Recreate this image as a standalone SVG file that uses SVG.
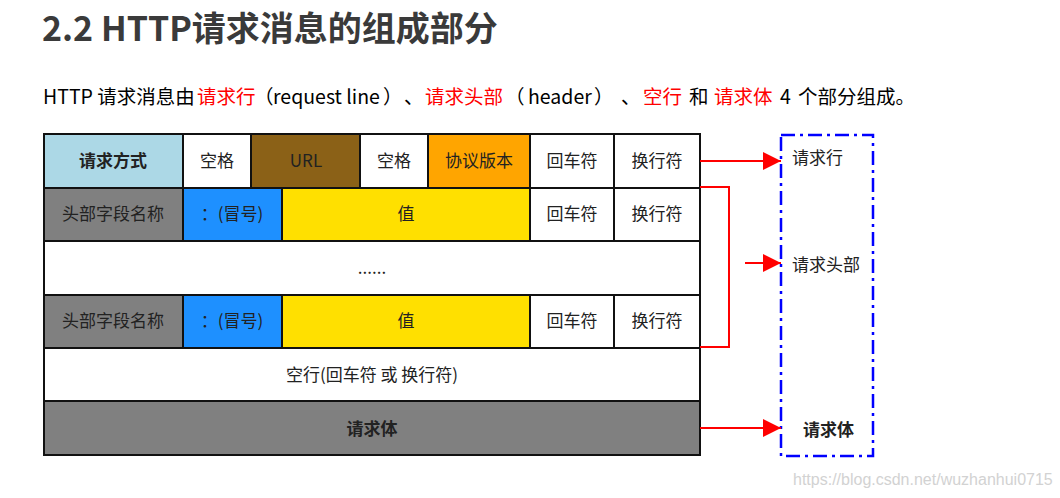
<svg xmlns="http://www.w3.org/2000/svg" width="1060" height="498" viewBox="0 0 1060 498">
<defs>
<marker id="ah" markerUnits="userSpaceOnUse" markerWidth="20" markerHeight="18" refX="18" refY="9" orient="auto">
<path d="M0,0 L18,9 L0,18 Z" fill="#ff0000"/>
</marker>
<style>
.c{stroke:#111;stroke-width:2}
.t{font-family:"Noto Sans CJK SC","Noto Sans",sans-serif;font-size:17px;fill:#222;text-anchor:middle}
.b{font-weight:bold}
.w{fill:#ffffff}
.lb{fill:#acd8e6}
.br{fill:#8b6117}
.or{fill:#ffa500}
.gr{fill:#808080}
.bl{fill:#1e90ff}
.ye{fill:#ffe000}
.red{fill:#ff0000}
.conn{stroke:#ff0000;stroke-width:2;fill:none}
.lbl{font-family:"Noto Sans CJK SC","Noto Sans",sans-serif;font-size:17px;fill:#222}
</style>
</defs>
<rect width="1060" height="498" fill="#ffffff"/>
<text x="42" y="41" font-family="'Noto Sans CJK SC','Noto Sans',sans-serif" font-size="34" font-weight="bold" fill="#3a3a3a">2.2 HTTP请求消息的组成部分</text>
<text y="104" font-family="'Noto Sans CJK SC','Noto Sans',sans-serif" font-size="19.5" fill="#000"><tspan x="43">HTTP 请求消息由</tspan><tspan x="197" class="red">请求行</tspan><tspan x="254">（</tspan><tspan x="273">request line</tspan><tspan x="383">）</tspan><tspan x="404">、</tspan><tspan x="425" class="red">请求头部</tspan><tspan x="505">（</tspan><tspan x="528">header</tspan><tspan x="594">）</tspan><tspan x="621">、</tspan><tspan x="643" class="red">空行</tspan><tspan x="689">和</tspan><tspan x="714" class="red">请求体</tspan><tspan x="780">4</tspan><tspan x="798">个部分组成。</tspan></text>

<g id="row1">
<g id="method"><rect class="c lb" x="44" y="134" width="139" height="54"/><text class="t b" x="113" y="167">请求方式</text></g>
<g id="space1"><rect class="c w" x="183" y="134" width="68" height="54"/><text class="t" x="217" y="167">空格</text></g>
<g id="url"><rect class="c br" x="251" y="134" width="109" height="54"/><text class="t" x="306" y="167">URL</text></g>
<g id="space2"><rect class="c w" x="360" y="134" width="68" height="54"/><text class="t" x="394" y="167">空格</text></g>
<g id="version"><rect class="c or" x="428" y="134" width="102" height="54"/><text class="t" x="479" y="167">协议版本</text></g>
<g id="cr1"><rect class="c w" x="530" y="134" width="84" height="54"/><text class="t" x="572" y="167">回车符</text></g>
<g id="lf1"><rect class="c w" x="614" y="134" width="86" height="54"/><text class="t" x="657" y="167">换行符</text></g>
</g>

<g id="row2">
<g id="hname1"><rect class="c gr" x="44" y="188" width="139" height="53"/><text class="t" x="113" y="220">头部字段名称</text></g>
<g id="colon1"><rect class="c bl" x="183" y="188" width="99" height="53"/><text class="t" x="232" y="220">：(冒号)</text></g>
<g id="value1"><rect class="c ye" x="282" y="188" width="248" height="53"/><text class="t" x="406" y="220">值</text></g>
<g id="cr2"><rect class="c w" x="530" y="188" width="84" height="53"/><text class="t" x="572" y="220">回车符</text></g>
<g id="lf2"><rect class="c w" x="614" y="188" width="86" height="53"/><text class="t" x="657" y="220">换行符</text></g>
</g>

<g id="ellipsis"><rect class="c w" x="44" y="241" width="656" height="54"/><text class="t" x="372" y="274">......</text></g>

<g id="row4">
<g id="hname2"><rect class="c gr" x="44" y="295" width="139" height="53"/><text class="t" x="113" y="327">头部字段名称</text></g>
<g id="colon2"><rect class="c bl" x="183" y="295" width="99" height="53"/><text class="t" x="232" y="327">：(冒号)</text></g>
<g id="value2"><rect class="c ye" x="282" y="295" width="248" height="53"/><text class="t" x="406" y="327">值</text></g>
<g id="cr3"><rect class="c w" x="530" y="295" width="84" height="53"/><text class="t" x="572" y="327">回车符</text></g>
<g id="lf3"><rect class="c w" x="614" y="295" width="86" height="53"/><text class="t" x="657" y="327">换行符</text></g>
</g>

<g id="blankline"><rect class="c w" x="44" y="348" width="656" height="53"/><text class="t" x="372" y="381">空行(回车符 或 换行符)</text></g>
<g id="body"><rect class="c gr" x="44" y="401" width="656" height="54"/><text class="t b" x="372" y="435">请求体</text></g>

<g id="parts">
<rect x="781" y="135" width="92" height="321" fill="none" stroke="#0000ff" stroke-width="2.5" stroke-dasharray="14 5 3 5"/>
<text class="lbl" x="792" y="164">请求行</text>
<text class="lbl" x="792" y="271">请求头部</text>
<text class="lbl b" x="803" y="436">请求体</text>
</g>

<g id="connectors">
<line class="conn" x1="700" y1="161" x2="781" y2="161" marker-end="url(#ah)"/>
<polyline class="conn" points="700,187 729,187 729,347 700,347"/>
<line class="conn" x1="745" y1="263" x2="781" y2="263" marker-end="url(#ah)"/>
<line class="conn" x1="700" y1="428" x2="781" y2="428" marker-end="url(#ah)"/>
</g>

<text x="793" y="485" font-family="'Liberation Sans',sans-serif" font-size="16" fill="#d2d2d2">https://blog.csdn.net/wuzhanhui0715</text>
</svg>
